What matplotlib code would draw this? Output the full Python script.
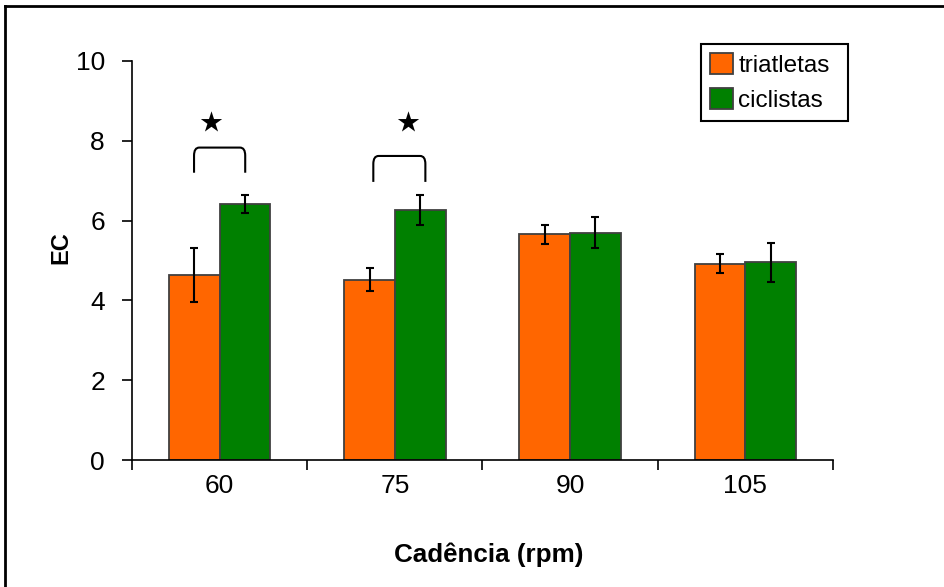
#!/usr/bin/env python3

import numpy as np
import matplotlib

matplotlib.use("Agg")
import matplotlib.pyplot as plt
from matplotlib.lines import Line2D
from matplotlib.path import Path
from matplotlib.patches import PathPatch

plt.rcParams["font.family"] = ["Liberation Sans", "DejaVu Sans"]

cadences = ["60", "75", "90", "105"]
groups = ["triatletas", "ciclistas"]
ec_triatletas = [4.64, 4.52, 5.66, 4.92]
ec_ciclistas = [6.42, 6.27, 5.70, 4.96]
sd_triatletas = [0.68, 0.28, 0.24, 0.24]
sd_ciclistas = [0.23, 0.38, 0.39, 0.49]

# significance brackets (x in category units, y in EC units) and stars
sig_left = [-0.146, 0.877]
sig_right = [0.146, 1.174]
sig_low = [7.20, 6.97]
sig_high = [7.83, 7.62]
star_x = [-0.05, 1.075]
star_y = [8.48, 8.48]

colors = ["#FF6600", "#008000"]
edge = "#404040"

fig = plt.figure(figsize=(9.44, 5.87), dpi=100)
ax = fig.add_axes([132 / 944, 1 - 460 / 587, 701 / 944, 399 / 587])

x = np.arange(len(cadences))
w = 0.289
for off, vals, errs, c, lab in [
    (-w / 2, ec_triatletas, sd_triatletas, colors[0], groups[0]),
    (w / 2, ec_ciclistas, sd_ciclistas, colors[1], groups[1]),
]:
    ax.bar(x + off, vals, width=w, color=c, edgecolor=edge, linewidth=1.3,
           label=lab, zorder=2)
    ax.errorbar(x + off, vals, yerr=errs, fmt="none", ecolor="black",
                elinewidth=1.5, capsize=3, capthick=1.5, zorder=3)

# rounded brackets over the significant pairs
for x0, x1, y0, y1 in zip(sig_left, sig_right, sig_low, sig_high):
    rx, ry = 0.03, 0.2
    verts = [(x0, y0), (x0, y1 - ry), (x0, y1), (x0 + rx, y1),
             (x1 - rx, y1), (x1, y1), (x1, y1 - ry), (x1, y0)]
    codes = [Path.MOVETO, Path.LINETO, Path.CURVE3, Path.CURVE3,
             Path.LINETO, Path.CURVE3, Path.CURVE3, Path.LINETO]
    ax.add_patch(PathPatch(Path(verts, codes), fill=False, lw=1.5,
                           edgecolor="black", capstyle="butt"))
ax.scatter(star_x, star_y, marker="*", s=260, color="black", zorder=4,
           linewidths=0)

ax.set_xlim(-0.5, len(cadences) - 0.5)
ax.set_ylim(0, 10)
ax.set_yticks(np.arange(0, 11, 2))
ax.set_xticks(x)
ax.set_xticklabels(cadences)
ax.set_xticks(np.arange(-0.5, len(cadences), 1.0), minor=True)
ax.tick_params(axis="x", which="major", length=0, pad=10, labelsize=19)
ax.tick_params(axis="x", which="minor", length=7.5, width=1.2, direction="out")
ax.tick_params(axis="y", length=7.5, width=1.2, pad=12, labelsize=19)
for s in ["top", "right"]:
    ax.spines[s].set_visible(False)
for s in ["left", "bottom"]:
    ax.spines[s].set_linewidth(1.2)

fig.text(61 / 944, 1 - 248 / 587, "EC", rotation=90, fontsize=17,
         fontweight="bold", ha="center", va="center")
fig.text(489 / 944, 1 - 555 / 587, "Cadência (rpm)", fontsize=18.7,
         fontweight="bold", ha="center", va="center")

# legend box stretched to a fixed width, entries left-aligned
leg = ax.legend(loc="upper left",
                bbox_to_anchor=(701 / 944, 1 - 44 / 587, 147 / 944, 0),
                bbox_transform=fig.transFigure, mode="expand",
                borderaxespad=0, fontsize=17.5,
                fancybox=False, framealpha=1, edgecolor="black",
                handlelength=0.95, handleheight=0.95, handletextpad=0.2,
                labelspacing=0.45, borderpad=0.38)
leg.get_frame().set_linewidth(1.5)

# outer chart-area frame, open on the right and bottom
fig.add_artist(Line2D([5 / 944, 1], [1 - 6 / 587] * 2, color="black",
                      lw=2, transform=fig.transFigure))
fig.add_artist(Line2D([5 / 944] * 2, [0, 1 - 6 / 587], color="black",
                      lw=2, transform=fig.transFigure))

fig.savefig("out.png", dpi=100)
